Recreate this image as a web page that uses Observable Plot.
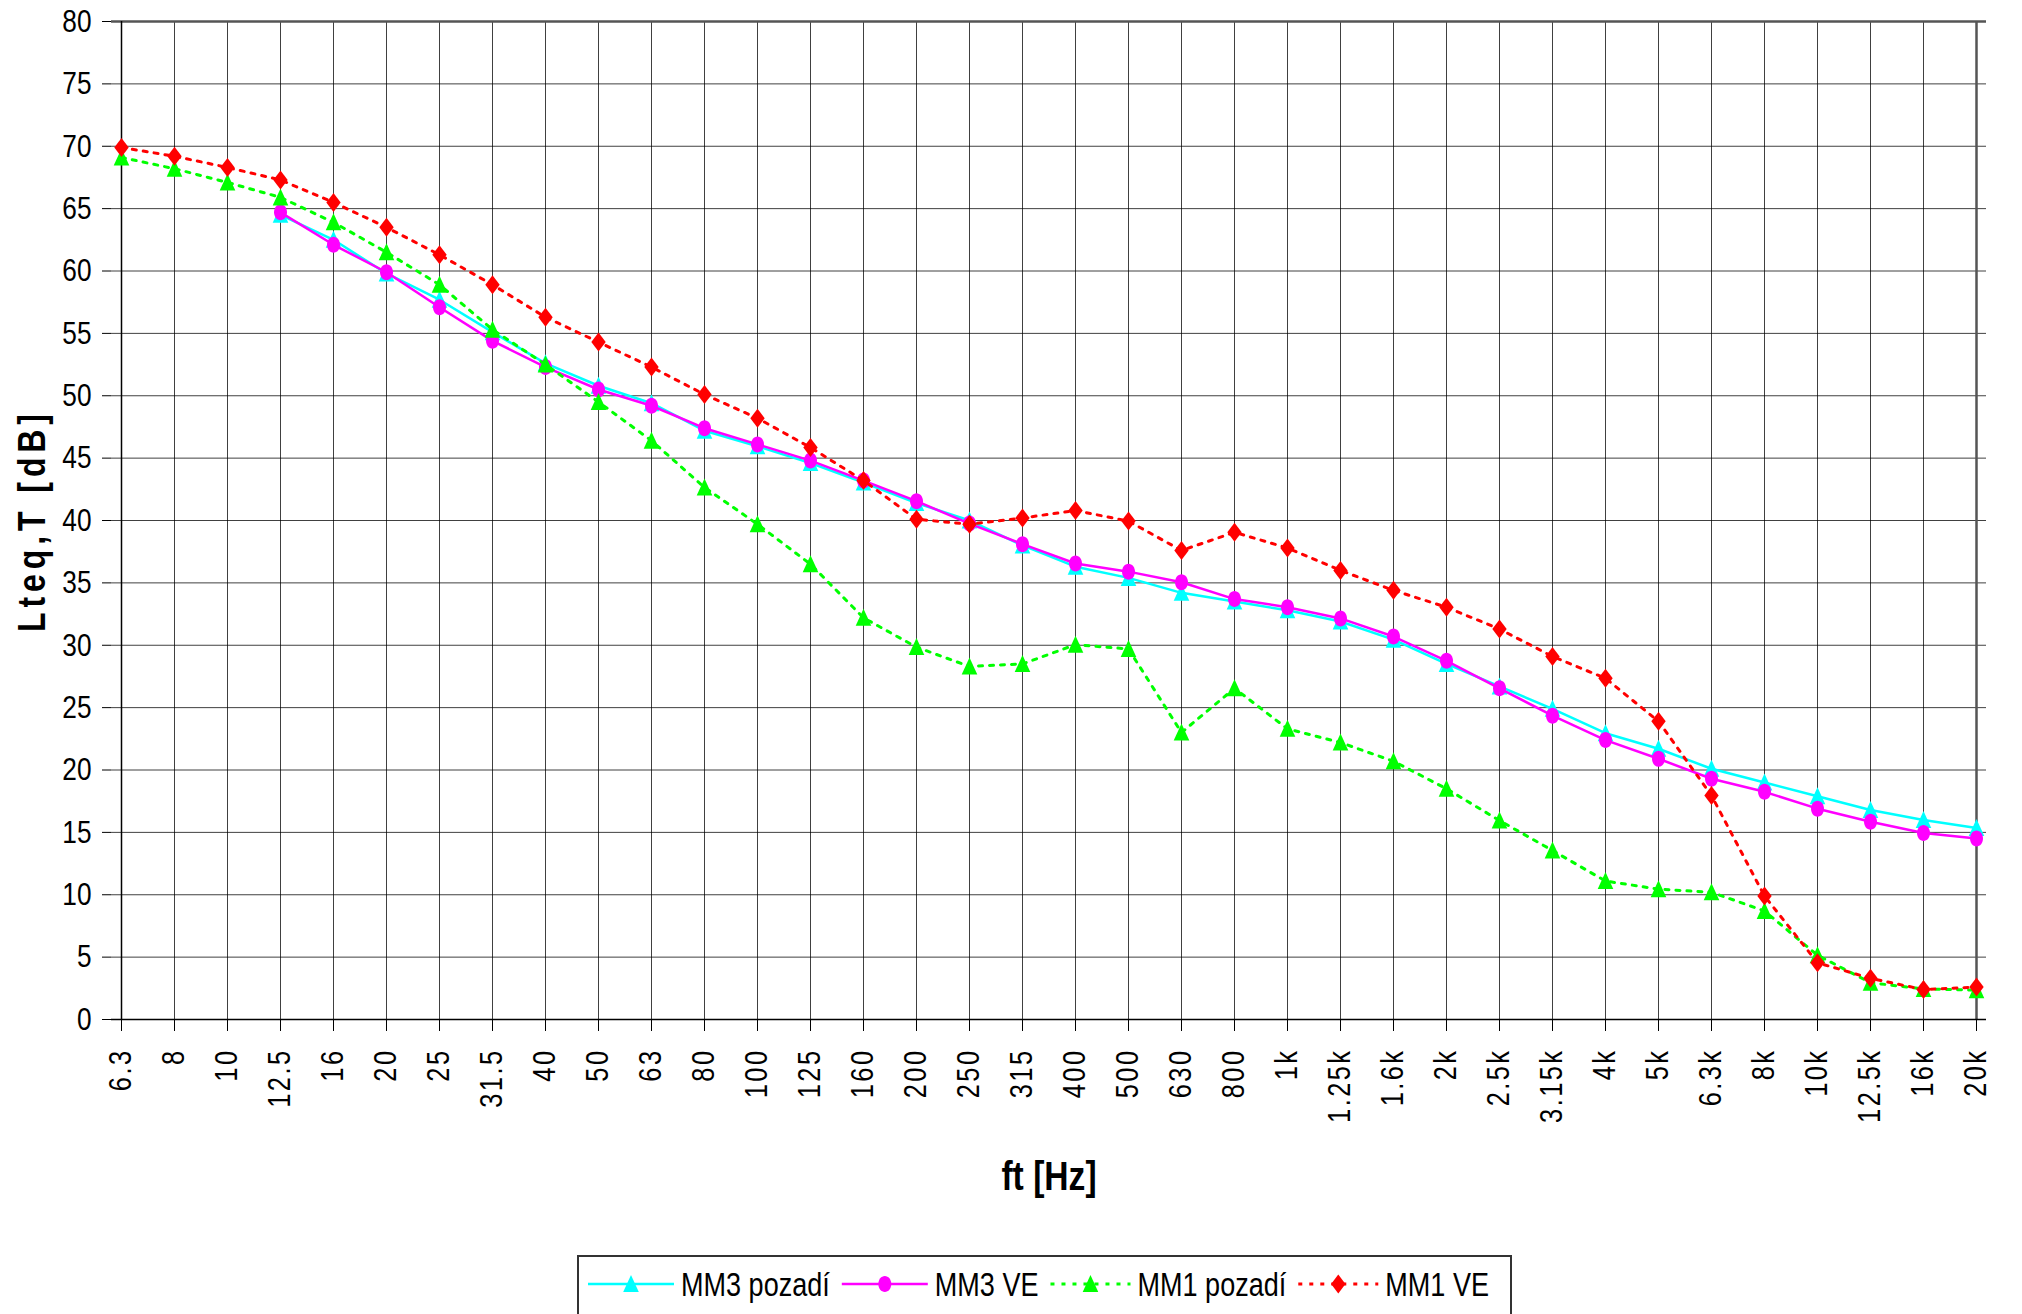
<!DOCTYPE html>
<html><head><meta charset="utf-8">
<script src="https://cdn.jsdelivr.net/npm/d3@7"></script>
<script src="https://cdn.jsdelivr.net/npm/@observablehq/plot@0.6"></script>
<style>
html,body{margin:0;padding:0;background:#fff;overflow:hidden;}
#wrap{position:relative;width:2022px;height:1314px;}
#chart svg{display:block;}
g[aria-label="x-axis tick label"] text{letter-spacing:3px;}
#legend{position:absolute;left:577px;top:1255px;}
</style>
</head><body>
<div id="wrap"><div id="chart"></div><svg id="legend" width="936" height="62"></svg></div>
<script>
const freqs = ["6.3","8","10","12.5","16","20","25","31.5","40","50","63","80","100","125","160","200","250","315","400","500","630","800","1k","1.25k","1.6k","2k","2.5k","3.15k","4k","5k","6.3k","8k","10k","12.5k","16k","20k"];
const mm3Pozadi = [null,null,null,64.5,62.5,59.8,57.7,55.1,52.6,50.8,49.4,47.2,45.95,44.6,43.05,41.4,40.0,38.0,36.3,35.4,34.2,33.5,32.8,31.9,30.45,28.5,26.7,24.9,22.95,21.7,20.1,19.0,17.9,16.8,16.0,15.35];
const mm3VE = [null,null,null,64.7,62.1,59.9,57.1,54.4,52.3,50.5,49.2,47.4,46.1,44.8,43.2,41.55,39.75,38.1,36.55,35.9,35.05,33.7,33.05,32.15,30.7,28.75,26.55,24.35,22.4,20.9,19.3,18.25,16.9,15.85,14.95,14.5];
const mm1Pozadi = [69.1,68.2,67.1,65.9,63.9,61.5,58.9,55.3,52.5,49.5,46.4,42.65,39.7,36.5,32.2,29.85,28.3,28.5,30.05,29.7,23.0,26.55,23.3,22.2,20.7,18.5,15.95,13.55,11.1,10.45,10.2,8.7,5.15,2.95,2.45,2.35];
const mm1VE = [69.9,69.2,68.3,67.3,65.5,63.5,61.3,58.9,56.3,54.3,52.3,50.1,48.2,45.85,43.2,40.1,39.7,40.2,40.8,39.95,37.6,39.05,37.8,36.0,34.4,33.05,31.3,29.1,27.35,23.9,17.95,9.9,4.55,3.3,2.4,2.6];
const yTicks = [0,5,10,15,20,25,30,35,40,45,50,55,60,65,70,75,80];
const seriesNames = ["MM3 pozadí","MM3 VE","MM1 pozadí","MM1 VE"];
const seriesValues = [mm3Pozadi, mm3VE, mm1Pozadi, mm1VE];
const seriesColors = ["#00FFFF","#FF00FF","#00FF00","#FF0000"];
const seriesDash = [null, null, "4 7", "4 7"];
const xTitle = "ft [Hz]";
const yTitle = "Lteq,T [dB]";

const FONT = "'Liberation Sans',Arial,sans-serif";
const NARROW = 0.82;

// custom marker shapes
const triSym = {draw(c){c.moveTo(0,-9);c.lineTo(7.8,8);c.lineTo(-7.8,8);c.closePath();}};
const ellSym = {draw(c){const rx=6.5, ry=8, k=0.5523;
  c.moveTo(rx,0);
  c.bezierCurveTo(rx,ry*k,rx*k,ry,0,ry);
  c.bezierCurveTo(-rx*k,ry,-rx,ry*k,-rx,0);
  c.bezierCurveTo(-rx,-ry*k,-rx*k,-ry,0,-ry);
  c.bezierCurveTo(rx*k,-ry,rx,-ry*k,rx,0);
  c.closePath();}};
const diaSym = {draw(c){c.moveTo(0,-9.5);c.lineTo(7.2,0);c.lineTo(0,9.5);c.lineTo(-7.2,0);c.closePath();}};
const seriesSymbols = [triSym, ellSym, triSym, diaSym];

const rows = seriesNames.flatMap((s, si) => seriesValues[si].map((v, i) => ({s, si, f: freqs[i], v})).filter(d => d.v != null));

const marks = [
  Plot.gridY(yTicks, {stroke: "#000", strokeOpacity: 0.75, strokeWidth: 1}),
  Plot.gridX(freqs, {stroke: "#000", strokeOpacity: 0.75, strokeWidth: 1}),
  Plot.ruleY([80], {stroke: "#555", strokeWidth: 2.5}),
  Plot.ruleX(["20k"], {stroke: "#555", strokeWidth: 2.5}),
  Plot.axisY({ticks: yTicks, tickSize: 9, tickPadding: 11, fontSize: 32, fontFamily: FONT, label: null, stroke: "#000", color: "#000"}),
  Plot.axisX({tickRotate: -90, tickSize: 12, tickPadding: 17, fontSize: 31, fontFamily: FONT, label: null, stroke: "#000", color: "#000"}),
  Plot.ruleY([0], {stroke: "#000", strokeWidth: 1.5}),
  Plot.ruleX(["6.3"], {stroke: "#000", strokeWidth: 1.5})
];
seriesNames.forEach((s, si) => {
  const data = rows.filter(d => d.si === si);
  marks.push(Plot.line(data, {x: "f", y: "v", stroke: seriesColors[si], strokeWidth: si < 2 ? 2.5 : 3, strokeDasharray: seriesDash[si] ?? undefined}));
  marks.push(Plot.dot(data, {x: "f", y: "v", symbol: seriesSymbols[si], fill: seriesColors[si], stroke: "none", r: 5}));
});
marks.push(Plot.text([xTitle], {frameAnchor: "bottom", dy: 170, text: d => d, textAnchor: "middle", fontSize: 41, fontWeight: "bold", fontFamily: FONT, fill: "#000"}));
marks.push(Plot.text([yTitle], {frameAnchor: "left", dx: -79, rotate: -90, text: d => d, textAnchor: "middle", lineAnchor: "middle", fontSize: 39, fontWeight: "bold", fontFamily: FONT, fill: "#000"}));

const chart = Plot.plot({
  width: 2022,
  height: 1240,
  marginLeft: 111,
  marginRight: 36,
  marginTop: 21,
  marginBottom: 221,
  style: {background: "#fff", color: "#000", fontFamily: FONT},
  x: {type: "point", domain: freqs, padding: 0, label: null},
  y: {domain: [0, 80], label: null},
  marks
});
document.getElementById("chart").appendChild(chart);

// narrow the text along its reading direction (the reference uses condensed lettering)
const narrowText = sel => sel.attr("transform", function(){ return (this.getAttribute("transform") || "") + ` scale(${NARROW},1)`; });
narrowText(d3.select(chart).selectAll('g[aria-label="y-axis tick label"] text'));
narrowText(d3.select(chart).selectAll('g[aria-label="x-axis tick label"] text'));
const titles = d3.select(chart).selectAll('g[aria-label="text"] text').filter(function(){return this.textContent === yTitle || this.textContent === xTitle;});
narrowText(titles);
titles.filter(function(){return this.textContent === yTitle;}).style("letter-spacing", "6px");

// legend
const legend = d3.select("#legend");
legend.append("rect").attr("x", 1).attr("y", 1).attr("width", 933).attr("height", 80).attr("fill", "#fff").attr("stroke", "#333").attr("stroke-width", 2);
let cx = 11;
seriesNames.forEach((s, si) => {
  const w = si < 2 ? 86 : 80;
  const g = legend.append("g").attr("transform", `translate(${cx},0)`);
  g.append("line").attr("x1", 0).attr("x2", w).attr("y1", 29).attr("y2", 29)
    .attr("stroke", seriesColors[si]).attr("stroke-width", si < 2 ? 2.5 : 3)
    .attr("stroke-dasharray", seriesDash[si]);
  g.append("path").attr("transform", `translate(${w/2},29)`).attr("d", d3.symbol(seriesSymbols[si])()).attr("fill", seriesColors[si]);
  const t = g.append("text").attr("transform", `translate(${w + 7},29) scale(${NARROW},1)`).attr("dy", "0.35em")
    .attr("font-family", FONT).attr("font-size", 33).attr("fill", "#000").text(s);
  const len = t.node().getComputedTextLength() * NARROW;
  cx += w + 7 + len + 12;
});
</script>
</body></html>
